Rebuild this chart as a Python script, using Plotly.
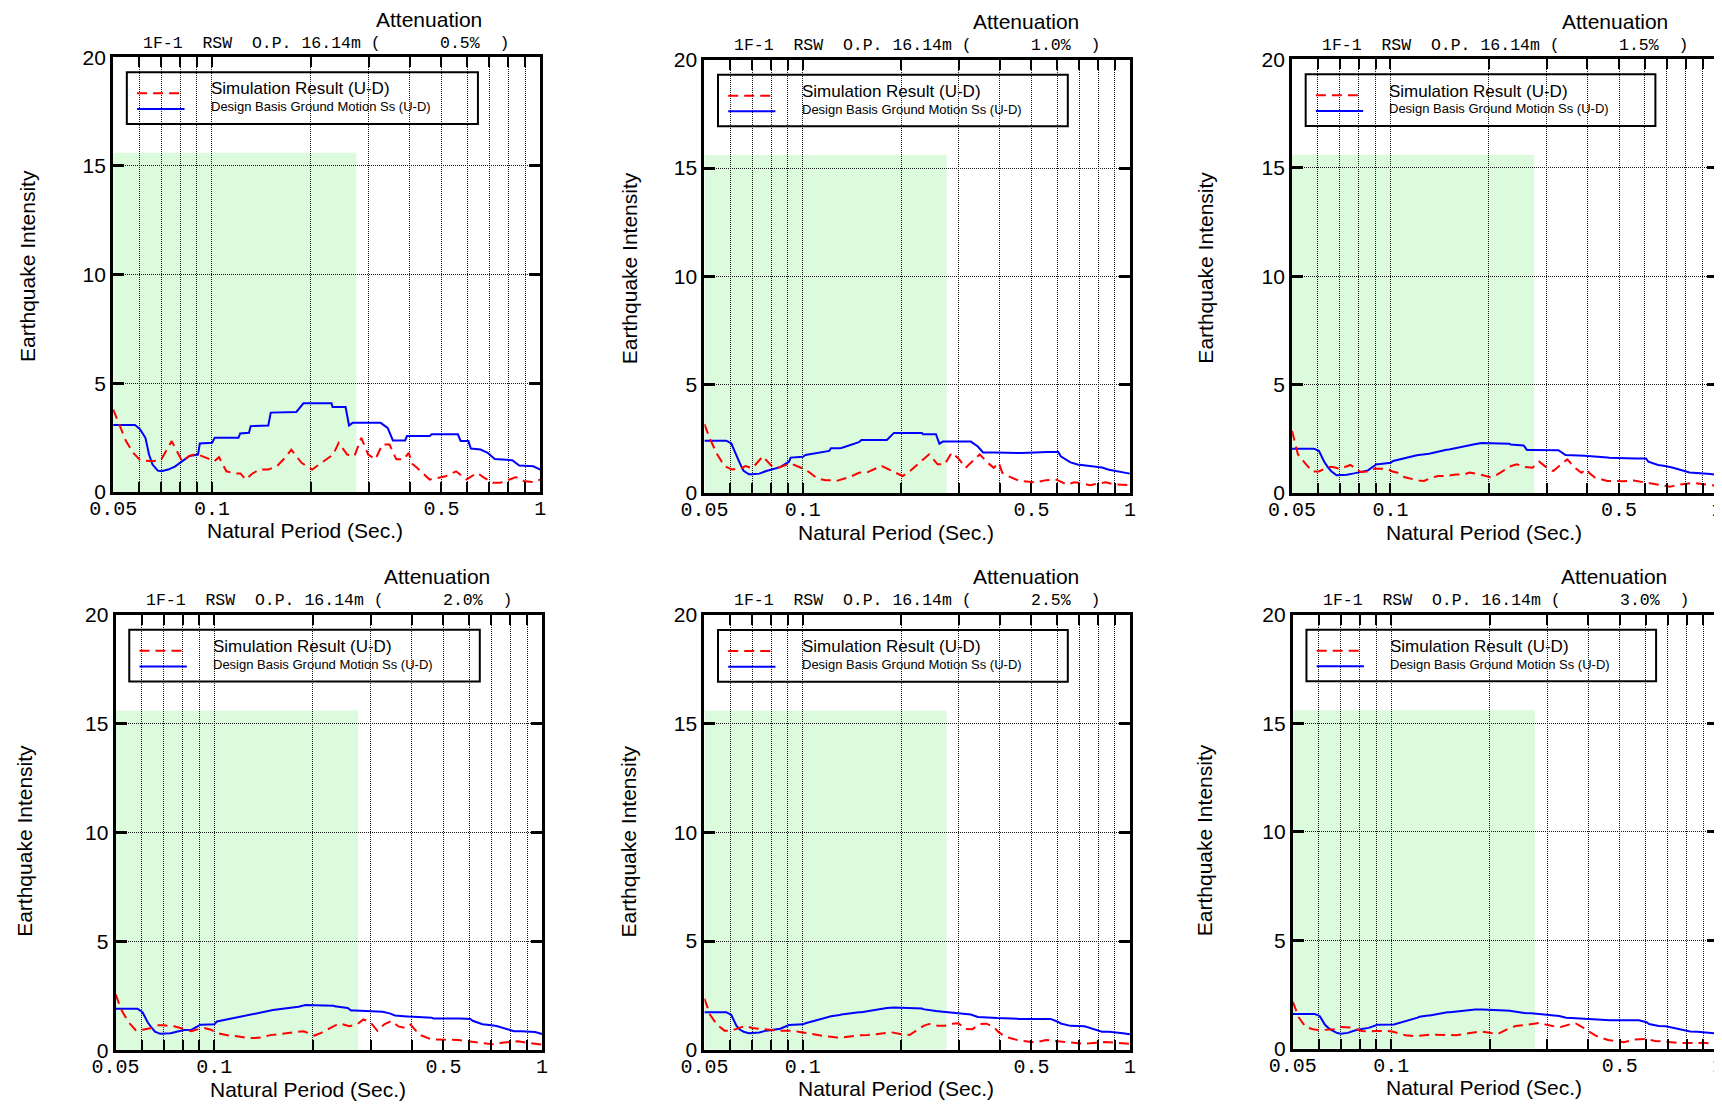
"""Espectros verticales (U-D) 1F-1 RSW O.P. 16.14m: simulación vs Ss, seis amortiguamientos."""

import math

import plotly.graph_objects as go

W, H = 1722, 1104
_SANS = "Liberation Sans, Arial, sans-serif"
_MONO = "Liberation Mono, Courier New, monospace"

ATTENUATION = ["0.5%", "1.0%", "1.5%", "2.0%", "2.5%", "3.0%"]

# espectro de diseño Ss (escalonado)
BLUE_PERIOD = [0.05, 0.0583, 0.0604, 0.0627, 0.0643, 0.0659, 0.0684, 0.0701, 0.0736, 0.0773,
               0.0812, 0.0853, 0.0907, 0.0918, 0.1001, 0.1019, 0.1204, 0.1219, 0.1296, 0.1312,
               0.1484, 0.151, 0.1807, 0.1899, 0.2312, 0.2329, 0.2552, 0.2615, 0.268, 0.3263,
               0.3428, 0.3557, 0.3876, 0.3924, 0.4607, 0.4664, 0.561, 0.572, 0.604, 0.6144,
               0.658, 0.6913, 0.7264, 0.8215, 0.863, 0.9522, 1.0]
BLUE_05 = [3.08, 3.08, 2.88, 2.49, 1.72, 1.26, 0.98, 0.95, 1.03, 1.18,
           1.42, 1.65, 1.72, 2.23, 2.26, 2.49, 2.49, 2.69, 2.72, 3.03,
           3.06, 3.65, 3.68, 4.08, 4.08, 3.91, 3.91, 3.06, 3.18, 3.18,
           2.95, 2.37, 2.37, 2.57, 2.57, 2.65, 2.65, 2.34, 2.34, 2.0,
           1.95, 1.8, 1.52, 1.46, 1.22, 1.18, 1.03]
BLUE_10 = [2.42, 2.42, 2.30, 1.70, 1.35, 1.03, 0.87, 0.87, 0.90, 1.02,
           1.12, 1.20, 1.45, 1.64, 1.68, 1.76, 1.95, 2.07, 2.07, 2.08,
           2.35, 2.45, 2.45, 2.78, 2.78, 2.72, 2.72, 2.28, 2.38, 2.38,
           2.15, 1.88, 1.88, 1.88, 1.88, 1.85, 1.90, 1.90, 1.90, 1.70,
           1.42, 1.32, 1.28, 1.18, 1.08, 0.95, 0.90]
BLUE_15 = [2.05, 2.05, 1.95, 1.45, 1.20, 1.01, 0.82, 0.82, 0.85, 0.91,
           0.99, 1.05, 1.33, 1.33, 1.40, 1.48, 1.75, 1.76, 1.78, 1.82,
           2.00, 2.01, 2.25, 2.31, 2.28, 2.24, 2.20, 1.99, 1.99, 1.98,
           1.76, 1.75, 1.72, 1.72, 1.64, 1.63, 1.60, 1.60, 1.60, 1.45,
           1.30, 1.25, 1.18, 0.95, 0.93, 0.88, 0.83]
BLUE_20 = [1.91, 1.91, 1.75, 1.28, 1.05, 0.86, 0.76, 0.76, 0.79, 0.87,
           0.93, 0.95, 1.18, 1.18, 1.20, 1.33, 1.55, 1.58, 1.67, 1.69,
           1.84, 1.85, 2.00, 2.08, 2.05, 2.02, 1.95, 1.83, 1.83, 1.77,
           1.70, 1.60, 1.56, 1.55, 1.50, 1.46, 1.46, 1.46, 1.44, 1.36,
           1.20, 1.16, 1.12, 0.88, 0.88, 0.84, 0.75]
BLUE_25 = [1.73, 1.73, 1.61, 1.10, 0.92, 0.83, 0.76, 0.77, 0.80, 0.88,
           0.94, 0.97, 1.14, 1.14, 1.17, 1.22, 1.51, 1.54, 1.60, 1.62,
           1.73, 1.73, 1.92, 1.94, 1.90, 1.87, 1.78, 1.77, 1.75, 1.62,
           1.51, 1.50, 1.46, 1.46, 1.42, 1.42, 1.42, 1.42, 1.28, 1.21,
           1.10, 1.09, 1.08, 0.83, 0.83, 0.76, 0.71]
BLUE_30 = [1.60, 1.60, 1.51, 1.10, 0.95, 0.84, 0.72, 0.69, 0.73, 0.84,
           0.91, 0.96, 1.10, 1.10, 1.11, 1.12, 1.43, 1.47, 1.53, 1.53,
           1.68, 1.68, 1.81, 1.81, 1.75, 1.74, 1.65, 1.64, 1.63, 1.51,
           1.43, 1.42, 1.39, 1.39, 1.31, 1.31, 1.31, 1.31, 1.22, 1.14,
           1.05, 1.03, 0.97, 0.79, 0.78, 0.74, 0.69]

# resultado de simulación
RED_PERIOD = [0.05, 0.0521, 0.0547, 0.0576, 0.0604, 0.0643, 0.0667, 0.0701, 0.0754, 0.0812,
              0.0852, 0.0897, 0.0930, 0.0978, 0.1014, 0.1051, 0.1106, 0.1174, 0.1221, 0.1266,
              0.1328, 0.1397, 0.1483, 0.1580, 0.1677, 0.1744, 0.1874, 0.2020, 0.2119, 0.2339,
              0.2432, 0.2582, 0.2717, 0.2850, 0.2990, 0.3146, 0.3301, 0.3473, 0.3644, 0.3834,
              0.3974, 0.4070, 0.4220, 0.4603, 0.5143, 0.5543, 0.5956, 0.6419, 0.6754, 0.7171,
              0.7545, 0.8430, 0.8950, 0.9535, 1.0]
RED_05 = [3.8, 3.1, 2.34, 1.8, 1.46, 1.42, 1.42, 1.5, 2.34, 1.4,
          1.66, 1.75, 1.66, 1.52, 1.4, 1.6, 0.95, 0.85, 0.85, 0.57,
          0.85, 1.03, 1.03, 1.2, 1.6, 1.95, 1.34, 1.03, 1.26, 1.72,
          2.26, 1.72, 1.66, 2.49, 1.72, 1.5, 2.18, 2.18, 1.5, 1.5,
          1.8, 1.3, 1.1, 0.57, 0.72, 0.95, 0.57, 0.88, 0.65, 0.42,
          0.42, 0.68, 0.49, 0.45, 0.57]
RED_10 = [3.18, 2.48, 1.79, 1.25, 1.1, 1.1, 1.25, 1.15, 1.7, 1.17,
          1.2, 1.33, 1.33, 1.2, 1.1, 0.94, 0.68, 0.6, 0.6, 0.56,
          0.65, 0.75, 0.94, 0.97, 1.15, 1.25, 1.02, 0.79, 1.0, 1.55,
          1.79, 1.33, 1.33, 1.87, 1.6, 1.17, 1.45, 1.79, 1.45, 1.17,
          1.4, 0.94, 0.8, 0.56, 0.5, 0.6, 0.62, 0.4, 0.5, 0.45,
          0.37, 0.5, 0.4, 0.37, 0.37]
RED_15 = [2.87, 1.79, 1.4, 1.0, 1.0, 1.2, 1.2, 1.12, 1.3, 0.97,
          1.0, 1.13, 1.12, 1.12, 1.0, 0.94, 0.73, 0.63, 0.58, 0.56,
          0.7, 0.79, 0.79, 0.86, 0.86, 0.95, 0.86, 0.73, 0.85, 1.25,
          1.33, 1.2, 1.17, 1.45, 1.2, 1.02, 1.3, 1.56, 1.2, 0.94,
          1.1, 0.9, 0.72, 0.56, 0.55, 0.58, 0.5, 0.43, 0.36, 0.3,
          0.38, 0.48, 0.42, 0.36, 0.34]
RED_20 = [2.57, 1.85, 1.3, 0.93, 0.95, 1.03, 1.15, 1.15, 1.11, 0.97,
          0.88, 0.98, 1.03, 0.95, 0.8, 0.75, 0.68, 0.65, 0.6, 0.57,
          0.57, 0.6, 0.7, 0.75, 0.77, 0.8, 0.88, 0.68, 0.8, 1.15,
          1.22, 1.11, 1.18, 1.42, 1.3, 0.9, 1.2, 1.35, 1.1, 1.03,
          1.18, 1.0, 0.72, 0.5, 0.49, 0.48, 0.42, 0.35, 0.31, 0.27,
          0.35, 0.42, 0.35, 0.3, 0.26]
RED_25 = [2.35, 1.6, 1.15, 0.88, 0.88, 1.03, 1.1, 1.0, 0.95, 0.9,
          0.88, 0.88, 0.88, 0.82, 0.78, 0.74, 0.66, 0.62, 0.6, 0.57,
          0.57, 0.62, 0.67, 0.68, 0.72, 0.78, 0.8, 0.7, 0.68, 1.1,
          1.19, 1.11, 1.11, 1.2, 1.22, 0.96, 0.95, 1.18, 1.2, 1.05,
          0.8, 0.7, 0.57, 0.42, 0.34, 0.45, 0.4, 0.37, 0.33, 0.28,
          0.3, 0.36, 0.33, 0.29, 0.28]
RED_30 = [2.16, 1.45, 1.0, 0.9, 0.85, 0.87, 0.9, 1.0, 0.98, 0.82,
          0.8, 0.82, 0.83, 0.82, 0.78, 0.72, 0.62, 0.58, 0.59, 0.62,
          0.65, 0.64, 0.6, 0.62, 0.68, 0.72, 0.8, 0.72, 0.68, 1.0,
          1.06, 1.1, 1.14, 1.19, 1.1, 1.03, 1.0, 1.1, 1.19, 1.0,
          0.85, 0.75, 0.6, 0.4, 0.3, 0.42, 0.45, 0.36, 0.34, 0.3,
          0.26, 0.28, 0.27, 0.25, 0.22]

BLUE = [BLUE_05, BLUE_10, BLUE_15, BLUE_20, BLUE_25, BLUE_30]
RED = [RED_05, RED_10, RED_15, RED_20, RED_25, RED_30]

BAND_PERIOD = [0.05, 0.275]  # banda sombreada
BAND_TOP = 15.6

X_TICKS = [0.05, 0.06, 0.07, 0.08, 0.09, 0.1, 0.2, 0.3, 0.4, 0.5, 0.6, 0.7, 0.8, 0.9, 1.0]
X_TICKTEXT = ["0.05", "", "", "", "", "0.1", "", "", "", "0.5", "", "", "", "", "1"]
Y_TICKS = [0, 5, 10, 15, 20]

# área de cada panel en px: izquierda, derecha, arriba, abajo
_BOXES = [
    (82.6, 517.3, 38.0, 482.0),
    (684.3, 1117.4, 40.6, 483.2),
    (1282.4, 1715.4, 40.2, 483.2),
    (85.1, 519.1, 607.3, 1052.3),
    (684.3, 1117.4, 607.6, 1051.7),
    (1283.2, 1716.1, 607.3, 1050.6),
]
# por panel: x de "Attenuation", desplazamiento y altura del título vertical
_TITLE_X = [0.74, 0.756, 0.76, 0.753, 0.756, 0.755]
_YTITLE_SHIFT = [-85, -75, -86, -91, -76, -88]
_YTITLE_Y = [0.52, 0.52, 0.52, 0.48, 0.48, 0.48]

_RED = "#ff0000"
_BLUE = "#0000ff"
_DASH = "10px,6px"
_GRID = dict(showgrid=True, gridcolor="#1a1a1a", gridwidth=1, griddash="1px,1px")
NB = "\u00a0"


def _suffix(i: int) -> str:
    return "" if i == 0 else str(i + 1)


def _heading(att: str) -> str:
    return f"1F-1{NB*2}RSW{NB*2}O.P.{NB}16.14m{NB}({NB*6}{att}{NB*2})"


fig = go.Figure()
layout_axes = {}
shapes = []
annotations = []

for i, box in enumerate(_BOXES):
    s = _suffix(i)
    xr, yr = f"x{s}", f"y{s}"
    xd, yd = f"x{s} domain", f"y{s} domain"
    left, right, top, bottom = box

    layout_axes[f"xaxis{s}"] = dict(
        domain=[left / W, right / W],
        anchor=yr,
        type="log",
        range=[math.log10(0.05), 0],
        tickvals=X_TICKS,
        ticktext=X_TICKTEXT,
        ticks="inside",
        ticklen=10,
        tickwidth=2,
        tickcolor="black",
        ticklabelstandoff=-4,
        showline=True,
        linewidth=3,
        linecolor="black",
        mirror="ticks",
        zeroline=False,
        tickfont=dict(family=_MONO, size=20, color="black"),
        **_GRID,
    )
    layout_axes[f"yaxis{s}"] = dict(
        domain=[1 - bottom / H, 1 - top / H],
        anchor=xr,
        range=[0, 20],
        tickvals=Y_TICKS,
        ticks="inside",
        ticklen=11,
        tickwidth=3,
        tickcolor="black",
        showline=True,
        linewidth=3,
        linecolor="black",
        mirror="ticks",
        zeroline=False,
        tickfont=dict(family=_SANS, size=21, color="black"),
        **_GRID,
    )

    fig.add_trace(
        go.Scatter(
            x=BLUE_PERIOD,
            y=BLUE[i],
            mode="lines",
            line=dict(color=_BLUE, width=2),
            name="Design Basis Ground Motion Ss (U-D)",
            xaxis=xr,
            yaxis=yr,
            showlegend=False,
        )
    )
    fig.add_trace(
        go.Scatter(
            x=RED_PERIOD,
            y=RED[i],
            mode="lines",
            line=dict(color=_RED, width=2, dash=_DASH),
            name="Simulation Result (U-D)",
            xaxis=xr,
            yaxis=yr,
            showlegend=False,
        )
    )

    # banda verde
    shapes.append(dict(type="rect", xref=xr, yref=yr, x0=BAND_PERIOD[0], x1=BAND_PERIOD[1],
                       y0=0, y1=BAND_TOP, fillcolor="#dcfadc", line=dict(width=0), layer="below"))
    # leyenda dibujada a mano
    shapes.append(dict(type="rect", xref=xd, yref=yd, x0=0.032, x1=0.854, y0=0.8465, y1=0.9654,
                       line=dict(color="black", width=2), fillcolor="rgba(0,0,0,0)"))
    shapes.append(dict(type="line", xref=xd, yref=yd, x0=0.056, x1=0.167, y0=0.917, y1=0.917,
                       line=dict(color=_RED, width=2, dash=_DASH)))
    shapes.append(dict(type="line", xref=xd, yref=yd, x0=0.056, x1=0.167, y0=0.881, y1=0.881,
                       line=dict(color=_BLUE, width=2)))

    annotations += [
        dict(text="Simulation Result (U-D)", xref=xd, yref=yd, x=0.224, y=0.927,
             xanchor="left", yanchor="middle", showarrow=False,
             font=dict(family=_SANS, size=17, color="black")),
        dict(text="Design Basis Ground Motion Ss (U-D)", xref=xd, yref=yd, x=0.224, y=0.886,
             xanchor="left", yanchor="middle", showarrow=False,
             font=dict(family=_SANS, size=13, color="black")),
        dict(text="Attenuation", xref=xd, yref=yd, x=_TITLE_X[i], y=1, yshift=38,
             xanchor="center", yanchor="middle", showarrow=False,
             font=dict(family=_SANS, size=21, color="black")),
        dict(text=_heading(ATTENUATION[i]), xref=xd, yref=yd, x=0.066, y=1, yshift=14,
             xanchor="left", yanchor="middle", showarrow=False,
             font=dict(family=_MONO, size=16.5, color="black")),
        dict(text="Natural Period (Sec.)", xref=xd, yref=yd, x=0.45, y=0, yshift=-39,
             xanchor="center", yanchor="middle", showarrow=False,
             font=dict(family=_SANS, size=21, color="black")),
        dict(text="Earthquake Intensity", xref=xd, yref=yd, x=0, xshift=_YTITLE_SHIFT[i],
             y=_YTITLE_Y[i], textangle=-90, xanchor="center", yanchor="middle",
             showarrow=False, font=dict(family=_SANS, size=21, color="black")),
    ]

fig.update_layout(
    width=W,
    height=H,
    margin=dict(l=0, r=0, t=0, b=0),
    paper_bgcolor="white",
    plot_bgcolor="white",
    showlegend=False,
    shapes=shapes,
    annotations=annotations,
    **layout_axes,
)

fig.write_html("out.html")
